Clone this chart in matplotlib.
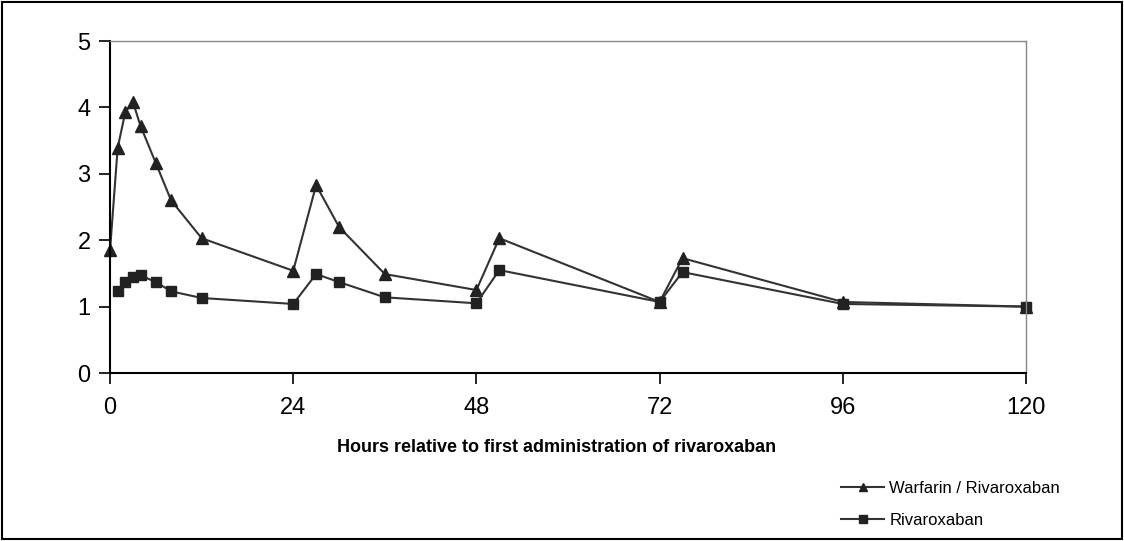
import matplotlib.pyplot as plt
from matplotlib.patches import Rectangle

plt.rcParams['font.family'] = ['Liberation Sans', 'DejaVu Sans']

# hours after first dose
hours_wr = [0, 1, 2, 3, 4, 6, 8, 12, 24, 27, 30, 36, 48, 51, 72, 75, 96, 120]
warfarin_riva = [1.85, 3.39, 3.93, 4.08, 3.72, 3.16, 2.6, 2.03, 1.54, 2.83, 2.2, 1.49,
                 1.25, 2.03, 1.07, 1.73, 1.07, 1.0]

hours_r = [1, 2, 3, 4, 6, 8, 12, 24, 27, 30, 36, 48, 51, 72, 75, 96, 120]
riva = [1.23, 1.37, 1.44, 1.47, 1.37, 1.23, 1.13, 1.04, 1.49, 1.37, 1.14,
        1.05, 1.55, 1.07, 1.52, 1.04, 1.0]

xticks = [0, 24, 48, 72, 96, 120]
yticks = [0, 1, 2, 3, 4, 5]

fig = plt.figure(figsize=(11.24, 5.41), dpi=100)
ax = fig.add_axes([0.0979, 0.3105, 0.8149, 0.6137])

ax.plot(hours_wr, warfarin_riva, color='#333333', lw=1.5, marker='^', ms=8,
        mfc='#222222', mec='#222222', label='Warfarin / Rivaroxaban', clip_on=False)
ax.plot(hours_r, riva, color='#333333', lw=1.5, marker='s', ms=7,
        mfc='#222222', mec='#222222', label='Rivaroxaban', clip_on=False)

ax.set_xlim(0, 120)
ax.set_ylim(0, 5)
ax.set_xticks(xticks)
ax.set_yticks(yticks)
ax.tick_params(axis='both', direction='out', length=8, width=1.2)
ax.tick_params(axis='x', pad=9)
ax.tick_params(axis='y', pad=6)
for lbl in ax.get_xticklabels() + ax.get_yticklabels():
    lbl.set_family(['Liberation Sans Narrow', 'Liberation Sans'])
    lbl.set_fontsize(17)

ax.spines['left'].set_linewidth(1.5)
ax.spines['bottom'].set_linewidth(1.5)
ax.spines['top'].set_color('#888888')
ax.spines['right'].set_color('#888888')
ax.spines['top'].set_linewidth(1)
ax.spines['right'].set_linewidth(1)

fig.text(557 / 1124, 1 - 447 / 541, 'Hours relative to first administration of rivaroxaban',
         ha='center', va='center', fontsize=13, fontweight='bold')

fig.legend(loc='upper left', bbox_to_anchor=(826 / 1124, 1 - 466 / 541),
           frameon=False, fontsize=12, handlelength=2.6, labelspacing=1.0,
           markerscale=0.8, handletextpad=0.3)

fig.add_artist(Rectangle((0.002, 0.003), 0.996, 0.994, transform=fig.transFigure,
                         fill=False, lw=1.5, ec='black'))

fig.savefig('out.png', dpi=100)
